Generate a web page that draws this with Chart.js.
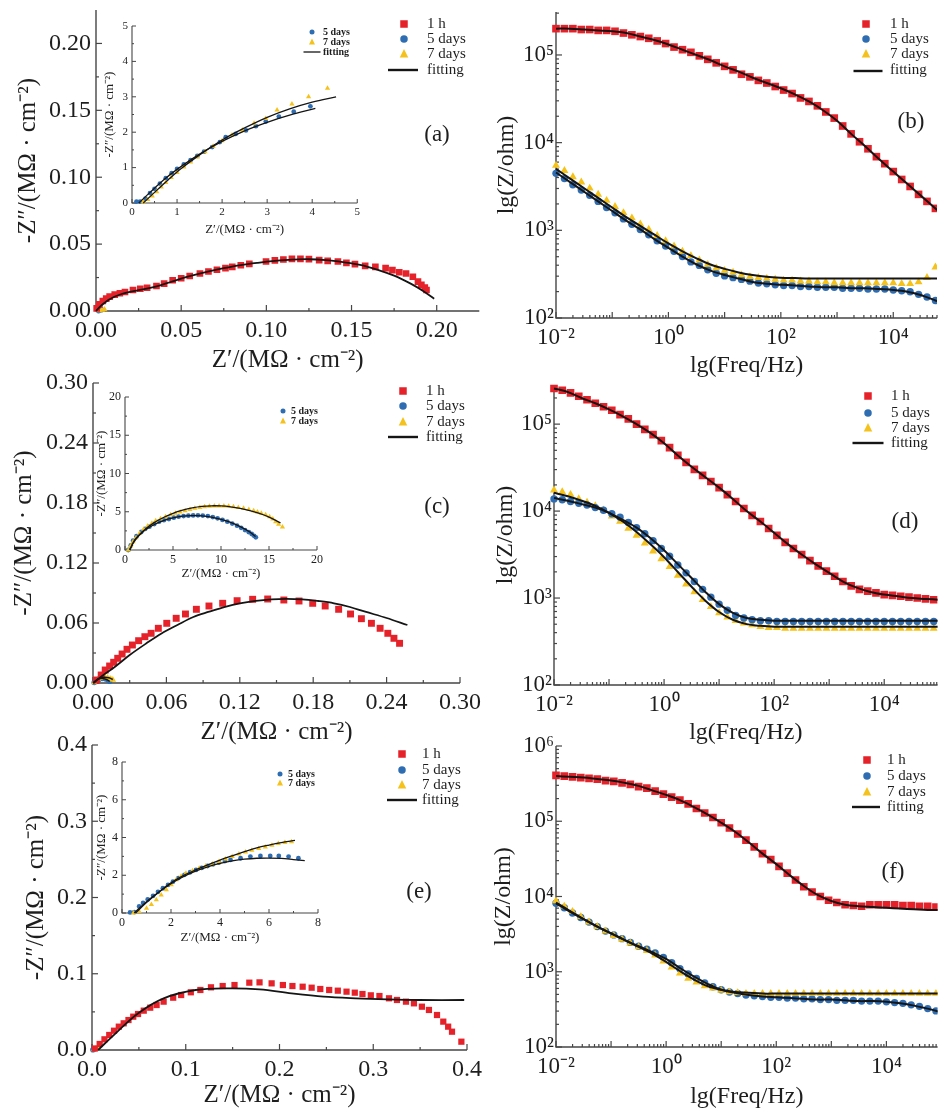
<!DOCTYPE html>
<html><head><meta charset="utf-8"><title>EIS</title>
<script src="https://cdn.jsdelivr.net/npm/chart.js@4.4.1/dist/chart.umd.min.js"></script>
<style>
html,body{margin:0;padding:0;background:#fff;}
body{position:relative;width:939px;height:1114px;overflow:hidden;font-family:"Liberation Serif","Times New Roman",serif;color:#1e1e1e;}
canvas{position:absolute;}
.t{position:absolute;white-space:nowrap;line-height:1;}
.s{position:absolute;width:1px;height:1px;overflow:visible;}
</style></head><body>
<script>
// ---------------- DATA ----------------
const legendLabels = ['1 h', '5 days', '7 days', 'fitting'];
const insetLegendLabels = ['5 days', '7 days', 'fitting'];
const panelLabels = ['(a)', '(b)', '(c)', '(d)', '(e)', '(f)'];
const nyqYTitle = '-Z″/(MΩ · cm⁻²)';
const nyqXTitle = 'Z′/(MΩ · cm⁻²)';
const bodeYTitle = 'lg(Z/ohm)';
const bodeXTitle = 'lg(Freq/Hz)';

// Nyquist tick values / labels
const aTickVals = [0, 0.05, 0.10, 0.15, 0.20];
const aTickLabels = ['0.00', '0.05', '0.10', '0.15', '0.20'];
const aTickMinor = [0.025, 0.075, 0.125, 0.175];
const cTickVals = [0, 0.06, 0.12, 0.18, 0.24, 0.30];
const cTickLabels = ['0.00', '0.06', '0.12', '0.18', '0.24', '0.30'];
const cTickMinor = [0.03, 0.09, 0.15, 0.21, 0.27];
const eTickVals = [0, 0.1, 0.2, 0.3, 0.4];
const eTickLabels = ['0.0', '0.1', '0.2', '0.3', '0.4'];
const eTickMinor = [0.05, 0.15, 0.25, 0.35];
const aInTickVals = [0, 1, 2, 3, 4, 5];
const aInTickLabels = ['0', '1', '2', '3', '4', '5'];
const aInTickMinor = [0.5, 1.5, 2.5, 3.5, 4.5];
const cInTickVals = [0, 5, 10, 15, 20];
const cInTickLabels = ['0', '5', '10', '15', '20'];
const cInTickMinor = [2.5, 7.5, 12.5, 17.5];
const eInTickVals = [0, 2, 4, 6, 8];
const eInTickLabels = ['0', '2', '4', '6', '8'];
const eInTickMinor = [1, 3, 5, 7];
// Bode tick labels
const bodeXTickExp = [-2, 0, 2, 4];
const bodeXTickText = ['10⁻²', '10⁰', '10²', '10⁴'];
const bodeYTickExp = [2, 3, 4, 5, 6];
const bodeYTickText = ['10²', '10³', '10⁴', '10⁵', '10⁶'];

// (a) Nyquist, MΩ·cm⁻²  [Z', -Z'']
const a_1h = [[0.0004,0.002],[0.002,0.005],[0.004,0.0075],[0.006,0.0092],[0.008,0.0107],[0.011,0.0122],[0.014,0.0133],[0.017,0.0142],[0.0217,0.0157],[0.026,0.0166],[0.030,0.0174],[0.0355,0.0187],[0.040,0.0205],[0.045,0.023],[0.050,0.0245],[0.055,0.0262],[0.061,0.028],[0.066,0.0295],[0.071,0.0308],[0.076,0.032],[0.080,0.033],[0.085,0.0342],[0.090,0.0352],[0.0998,0.037],[0.105,0.0378],[0.110,0.0385],[0.115,0.039],[0.120,0.039],[0.125,0.0388],[0.131,0.038],[0.136,0.0375],[0.142,0.037],[0.147,0.036],[0.152,0.035],[0.158,0.0337],[0.164,0.033],[0.170,0.032],[0.174,0.0305],[0.178,0.029],[0.182,0.028],[0.186,0.0256],[0.189,0.022],[0.191,0.0195],[0.193,0.0175],[0.194,0.0157]];
const a_5d = [[0.0015,0.0003],[0.003,0.001]];
const a_7d = [[0.002,0.0003],[0.0035,0.0008],[0.005,0.0012]];
const a_fit = [[0,0],[0.003,0.004],[0.008,0.0088],[0.015,0.0127],[0.025,0.0156],[0.035,0.0182],[0.045,0.0222],[0.055,0.026],[0.065,0.0293],[0.075,0.032],[0.085,0.0343],[0.095,0.036],[0.105,0.0374],[0.115,0.0384],[0.125,0.0387],[0.135,0.038],[0.145,0.0365],[0.155,0.0345],[0.165,0.031],[0.175,0.0265],[0.185,0.0203],[0.192,0.015],[0.1985,0.0092]];
// (a) inset
const aIn_5d = [[0.10,0.04],[0.18,0.04],[0.30,0.12],[0.40,0.28],[0.50,0.40],[0.62,0.55],[0.75,0.70],[0.88,0.84],[1.0,0.96],[1.15,1.09],[1.30,1.21],[1.45,1.33],[1.60,1.45],[1.78,1.58],[1.95,1.72],[2.08,1.86],[2.30,1.95],[2.53,2.05],[2.75,2.17],[2.97,2.30],[3.26,2.44],[3.59,2.58],[3.96,2.73]];
const aIn_7d = [[0.25,0.03],[0.35,0.10],[0.45,0.20],[0.55,0.32],[0.65,0.45],[0.75,0.58],[0.87,0.72],[1.0,0.86],[1.15,1.02],[1.30,1.16],[1.45,1.30],[1.62,1.45],[1.80,1.60],[2.0,1.76],[2.22,1.92],[2.45,2.06],[2.71,2.25],[2.97,2.39],[3.22,2.63],[3.55,2.80],[3.92,3.00],[4.34,3.24]];
const aIn_fit7d = [[0.25,0],[0.5,0.3],[0.8,0.65],[1.1,0.98],[1.5,1.36],[2.0,1.78],[2.5,2.12],[3.0,2.42],[3.5,2.66],[4.0,2.85],[4.53,3.0]];
const aIn_fit5d = [[0.15,0],[0.4,0.3],[0.7,0.65],[1.0,0.95],[1.5,1.38],[2.0,1.74],[2.5,2.04],[3.0,2.28],[3.5,2.48],[4.07,2.67]];

// (c) Nyquist
const c_1h = [[0.0028,0.003],[0.0067,0.008],[0.010,0.013],[0.0136,0.017],[0.0169,0.0207],[0.0202,0.0247],[0.0238,0.029],[0.0278,0.0337],[0.0322,0.038],[0.0373,0.0423],[0.0424,0.0463],[0.0475,0.0497],[0.0534,0.0547],[0.0603,0.0597],[0.068,0.0647],[0.0756,0.069],[0.0845,0.0737],[0.0948,0.077],[0.106,0.0797],[0.1178,0.0823],[0.1305,0.0837],[0.1428,0.084],[0.156,0.083],[0.1684,0.082],[0.1796,0.0797],[0.1898,0.077],[0.2008,0.0737],[0.2105,0.069],[0.2194,0.0643],[0.2276,0.0597],[0.2347,0.0547],[0.241,0.0497],[0.246,0.0447],[0.2506,0.0397]];
const c_5d = [[0.001,0.0005],[0.003,0.0028],[0.005,0.0038],[0.0076,0.0045],[0.0101,0.0042],[0.0122,0.0031],[0.0136,0.0017]];
const c_7d = [[0.001,0.0005],[0.0025,0.0025],[0.004,0.0038],[0.006,0.0048],[0.008,0.0055],[0.010,0.0057],[0.012,0.0054],[0.014,0.0046],[0.0155,0.0038],[0.0164,0.003]];
const c_fit = [[0,0],[0.008,0.0075],[0.018,0.0163],[0.03,0.028],[0.0437,0.0397],[0.056,0.0495],[0.069,0.058],[0.082,0.066],[0.095,0.0713],[0.108,0.0762],[0.120,0.0797],[0.133,0.0822],[0.146,0.0837],[0.158,0.0842],[0.171,0.0837],[0.184,0.082],[0.197,0.0797],[0.21,0.076],[0.2225,0.0713],[0.24,0.065],[0.257,0.058]];
const c_fit5d = [[0.0005,0],[0.004,0.0038],[0.007,0.0045],[0.010,0.004],[0.0136,0.0017]];
const c_fit7d = [[0.0005,0],[0.004,0.004],[0.009,0.0057],[0.013,0.0052],[0.0162,0.0035]];
// (c) inset
const cIn_5d = [[0.34,0],[0.6,0.6],[0.84,1.22],[1.2,1.8],[1.69,2.35],[2.1,2.75],[2.54,3.05],[3.05,3.4],[3.55,3.7],[4.05,3.9],[4.57,4.05],[5.08,4.22],[5.58,4.36],[6.1,4.44],[6.6,4.49],[7.1,4.52],[7.6,4.53],[8.1,4.5],[8.63,4.44],[9.14,4.3],[9.64,4.14],[10.15,3.93],[10.66,3.7],[11.17,3.45],[11.67,3.18],[12.1,2.9],[12.5,2.61],[12.9,2.33],[13.2,2.09],[13.45,1.85],[13.63,1.66]];
const cIn_7d = [[0.34,0],[0.6,0.55],[0.84,1.09],[1.15,1.6],[1.52,2.18],[1.95,2.7],[2.37,3.14],[2.8,3.5],[3.2,3.83],[3.7,4.1],[4.23,4.36],[4.75,4.6],[5.25,4.8],[5.75,4.98],[6.26,5.14],[6.77,5.3],[7.28,5.45],[7.8,5.57],[8.29,5.66],[8.8,5.72],[9.31,5.75],[9.8,5.76],[10.3,5.75],[10.8,5.71],[11.3,5.66],[11.8,5.57],[12.35,5.45],[12.9,5.3],[13.4,5.14],[13.8,4.98],[14.2,4.8],[14.65,4.6],[15.06,4.36],[15.4,4.05],[15.7,3.7],[16.0,3.35],[16.4,3.0]];
const cIn_fit7d = [[0.5,0],[1,1.3],[2,2.6],[3,3.55],[4,4.25],[5,4.8],[6,5.2],[7,5.5],[8,5.7],[9,5.78],[10,5.76],[11,5.65],[12,5.45],[13,5.15],[14,4.78],[15,4.3],[16.2,3.55]];
const cIn_fit5d = [[0.5,0],[1,1.2],[2,2.5],[3,3.3],[4,3.85],[5,4.2],[6,4.42],[7,4.5],[8,4.47],[9,4.3],[10,4.0],[11,3.6],[12,3.05],[13,2.35],[13.6,1.75]];

// (e) Nyquist
const e_1h = [[0.003,0.002],[0.0082,0.0079],[0.0133,0.014],[0.0184,0.0197],[0.0235,0.0253],[0.0286,0.0306],[0.0338,0.035],[0.0389,0.0393],[0.044,0.0437],[0.0491,0.0472],[0.0552,0.0516],[0.0621,0.0555],[0.0689,0.059],[0.0764,0.0634],[0.0866,0.0686],[0.0951,0.0721],[0.1054,0.0757],[0.1156,0.0787],[0.1269,0.0822],[0.1394,0.0839],[0.152,0.0852],[0.1678,0.0883],[0.1787,0.0887],[0.1916,0.0874],[0.2036,0.0852],[0.2138,0.0839],[0.2247,0.083],[0.2343,0.0817],[0.2435,0.08],[0.253,0.0787],[0.2622,0.0778],[0.2715,0.0765],[0.2803,0.0752],[0.2885,0.0734],[0.2974,0.0717],[0.3066,0.0708],[0.3168,0.0678],[0.3253,0.0656],[0.3349,0.0634],[0.3434,0.0612],[0.3519,0.0568],[0.3594,0.0525],[0.368,0.0459],[0.3747,0.0372],[0.3799,0.0306],[0.384,0.024],[0.394,0.0109]];
const e_5d = [[0.001,0.0003],[0.003,0.0015]];
const e_7d = [[0.002,0.0005],[0.004,0.002],[0.006,0.0035]];
const e_fit = [[0.0065,0],[0.0252,0.0219],[0.049,0.048],[0.0764,0.0678],[0.1105,0.0787],[0.1445,0.0809],[0.1787,0.0796],[0.2128,0.0743],[0.2469,0.07],[0.281,0.0678],[0.315,0.0664],[0.349,0.0656],[0.397,0.0656]];
// (e) inset
const eIn_5d = [[0.33,0.03],[0.5,0.05],[0.7,0.35],[0.86,0.53],[1.05,0.72],[1.27,0.91],[1.47,1.12],[1.67,1.31],[1.88,1.49],[2.08,1.66],[2.3,1.85],[2.55,2.02],[2.78,2.16],[3.02,2.28],[3.25,2.39],[3.49,2.49],[3.72,2.58],[3.96,2.67],[4.2,2.75],[4.43,2.81],[4.84,2.9],[5.24,2.99],[5.65,3.02],[6.05,3.02],[6.4,3.02],[6.8,2.99],[7.2,2.9]];
const eIn_7d = [[0.47,0],[0.7,0.08],[1.0,0.25],[1.2,0.45],[1.4,0.7],[1.6,0.95],[1.81,1.23],[2.01,1.5],[2.21,1.76],[2.41,1.95],[2.61,2.1],[2.88,2.24],[3.15,2.37],[3.42,2.49],[3.69,2.6],[3.96,2.73],[4.23,2.86],[4.5,2.99],[4.77,3.12],[5.04,3.23],[5.3,3.33],[5.58,3.42],[5.85,3.5],[6.12,3.59],[6.38,3.68],[6.65,3.73],[6.92,3.77]];
const eIn_fit7d = [[0.55,0],[1,0.55],[1.5,1.1],[2,1.6],[2.5,1.98],[3,2.28],[3.5,2.55],[4,2.8],[4.5,3.03],[5,3.25],[5.5,3.45],[6,3.6],[6.5,3.73],[7.06,3.85]];
const eIn_fit5d = [[0.5,0],[1,0.6],[1.5,1.1],[2,1.55],[2.5,1.92],[3,2.22],[3.5,2.45],[4,2.63],[4.5,2.76],[5,2.85],[5.5,2.9],[6,2.91],[6.5,2.89],[7,2.83],[7.46,2.77]];

// Bode: log10(frequency / Hz) and log10(|Z| / ohm)
const lgFreq = [-2,-1.85,-1.7,-1.55,-1.4,-1.25,-1.1,-0.95,-0.8,-0.65,-0.5,-0.35,-0.2,-0.05,0.1,0.25,0.4,0.55,0.7,0.85,1,1.15,1.3,1.45,1.6,1.75,1.9,2.05,2.2,2.35,2.5,2.65,2.8,2.95,3.1,3.25,3.4,3.55,3.7,3.85,4,4.15,4.3,4.45,4.6,4.75,4.9];
const lgFreqFit = [-2,-1.75,-1.5,-1.25,-1,-0.75,-0.5,-0.25,0,0.25,0.5,0.75,1,1.25,1.5,1.75,2,2.25,2.5,2.75,3,3.25,3.5,3.75,4,4.25,4.5,4.75,5];

const b_1h = [5.30,5.30,5.30,5.29,5.29,5.28,5.28,5.27,5.25,5.23,5.21,5.19,5.16,5.13,5.09,5.06,5.03,4.99,4.95,4.91,4.87,4.83,4.78,4.75,4.71,4.68,4.64,4.60,4.56,4.51,4.47,4.42,4.35,4.28,4.19,4.10,4.01,3.93,3.84,3.76,3.67,3.58,3.50,3.41,3.33,3.25,3.17];
const b_5d = [3.65,3.59,3.52,3.46,3.40,3.33,3.26,3.20,3.13,3.07,3.01,2.95,2.88,2.82,2.76,2.70,2.64,2.60,2.55,2.51,2.48,2.46,2.44,2.42,2.40,2.39,2.38,2.37,2.37,2.36,2.36,2.35,2.35,2.35,2.34,2.34,2.34,2.33,2.33,2.33,2.32,2.31,2.30,2.27,2.24,2.20,2.16];
const b_7d = [3.74,3.68,3.61,3.55,3.48,3.41,3.34,3.27,3.20,3.14,3.07,3.01,2.94,2.88,2.82,2.76,2.71,2.66,2.61,2.57,2.54,2.52,2.49,2.47,2.46,2.45,2.44,2.43,2.43,2.42,2.42,2.41,2.41,2.40,2.40,2.40,2.40,2.40,2.40,2.40,2.40,2.39,2.39,2.41,2.46,2.58,2.70];
const bFit_1h = [5.30,5.30,5.29,5.28,5.27,5.25,5.21,5.17,5.12,5.06,5.00,4.94,4.87,4.81,4.74,4.68,4.62,4.55,4.47,4.37,4.25,4.10,3.96,3.81,3.67,3.53,3.39,3.25,3.11];
const bFit_5d = [3.66,3.55,3.44,3.33,3.22,3.11,3.01,2.90,2.80,2.70,2.61,2.54,2.49,2.45,2.41,2.39,2.38,2.37,2.36,2.35,2.35,2.34,2.34,2.33,2.32,2.30,2.26,2.20,2.14];
const bFit_7d = [3.70,3.59,3.48,3.37,3.26,3.15,3.05,2.95,2.85,2.76,2.68,2.61,2.56,2.52,2.49,2.47,2.46,2.455,2.45,2.45,2.45,2.45,2.45,2.45,2.45,2.45,2.45,2.45,2.45];

const d_1h = [5.41,5.39,5.36,5.32,5.28,5.24,5.20,5.16,5.11,5.06,5.00,4.94,4.88,4.81,4.73,4.64,4.56,4.48,4.41,4.34,4.27,4.19,4.11,4.03,3.95,3.88,3.80,3.72,3.64,3.57,3.50,3.43,3.37,3.31,3.25,3.19,3.14,3.10,3.08,3.06,3.04,3.03,3.02,3.01,3.00,2.99,2.98];
const d_5d = [4.14,4.13,4.11,4.09,4.07,4.04,4.01,3.97,3.93,3.87,3.81,3.74,3.66,3.57,3.48,3.38,3.29,3.19,3.10,3.01,2.93,2.86,2.80,2.77,2.75,2.74,2.74,2.73,2.73,2.73,2.73,2.73,2.73,2.73,2.73,2.73,2.73,2.73,2.73,2.73,2.73,2.73,2.73,2.73,2.73,2.73,2.73];
const d_7d = [4.24,4.22,4.19,4.14,4.10,4.06,4.01,3.94,3.88,3.80,3.72,3.63,3.54,3.45,3.36,3.26,3.16,3.07,2.98,2.90,2.83,2.78,2.74,2.71,2.69,2.67,2.66,2.66,2.65,2.65,2.65,2.65,2.65,2.65,2.65,2.65,2.65,2.65,2.65,2.65,2.65,2.65,2.65,2.65,2.65,2.65,2.65];
const dFit_1h = [5.41,5.37,5.30,5.24,5.17,5.09,5.00,4.90,4.78,4.64,4.51,4.39,4.27,4.14,4.00,3.88,3.75,3.62,3.50,3.39,3.29,3.19,3.12,3.07,3.04,3.02,3.00,2.99,2.98];
const dFit_5d = [4.15,4.12,4.08,4.04,3.98,3.90,3.81,3.69,3.55,3.39,3.23,3.07,2.93,2.83,2.77,2.75,2.74,2.74,2.74,2.74,2.74,2.74,2.74,2.74,2.74,2.74,2.74,2.74,2.74];
const dFit_7d = [4.21,4.17,4.12,4.06,3.98,3.88,3.76,3.62,3.47,3.30,3.13,2.97,2.84,2.75,2.70,2.68,2.67,2.67,2.67,2.67,2.67,2.67,2.67,2.67,2.67,2.67,2.67,2.67,2.67];

const f_1h = [5.61,5.60,5.59,5.58,5.57,5.56,5.54,5.53,5.51,5.49,5.46,5.44,5.40,5.36,5.32,5.28,5.23,5.17,5.11,5.05,4.98,4.91,4.83,4.75,4.66,4.57,4.49,4.40,4.31,4.22,4.13,4.06,4.00,3.95,3.92,3.89,3.88,3.87,3.89,3.89,3.89,3.89,3.88,3.88,3.87,3.87,3.86];
const f_5d = [3.91,3.85,3.78,3.72,3.66,3.60,3.54,3.49,3.44,3.39,3.34,3.30,3.25,3.19,3.12,3.04,2.97,2.91,2.85,2.80,2.76,2.73,2.71,2.69,2.68,2.67,2.66,2.66,2.65,2.65,2.64,2.64,2.63,2.63,2.62,2.62,2.62,2.61,2.61,2.61,2.60,2.59,2.58,2.56,2.54,2.51,2.48];
const f_7d = [3.94,3.87,3.80,3.73,3.66,3.60,3.54,3.48,3.43,3.38,3.33,3.28,3.22,3.14,3.06,2.98,2.91,2.86,2.81,2.78,2.75,2.73,2.72,2.71,2.71,2.71,2.71,2.71,2.71,2.71,2.71,2.71,2.71,2.71,2.71,2.71,2.71,2.71,2.71,2.71,2.71,2.71,2.71,2.71,2.71,2.71,2.71];
const fFit_1h = [5.60,5.59,5.58,5.56,5.54,5.51,5.47,5.41,5.35,5.28,5.19,5.09,4.98,4.86,4.72,4.57,4.43,4.28,4.14,4.02,3.94,3.89,3.87,3.86,3.85,3.84,3.83,3.82,3.82];
const fFit_5d = [3.91,3.80,3.70,3.60,3.51,3.42,3.34,3.26,3.17,3.05,2.94,2.84,2.76,2.72,2.69,2.67,2.66,2.65,2.64,2.63,2.63,2.62,2.61,2.61,2.60,2.58,2.55,2.51,2.46];
const fFit_7d = [3.92,3.81,3.70,3.60,3.51,3.42,3.33,3.24,3.13,3.01,2.90,2.81,2.76,2.73,2.72,2.71,2.71,2.71,2.71,2.71,2.71,2.71,2.71,2.71,2.71,2.71,2.71,2.71,2.71];

// ---------------- STYLE ----------------
const SERIF = '"Liberation Serif","Times New Roman",serif';
const RED = '#E5222A', BLUE = '#2F6DB3', YEL = '#F5C21B', FITC = '#151515', AXC = '#464646';
Chart.defaults.font.family = SERIF;

const P = arr => arr.map(([x, y]) => ({x, y}));
const B = (lf, lz) => lf.map((f, i) => ({x: Math.pow(10, f), y: Math.pow(10, lz[i])}));
const CLIP = {left: 12, top: 12, right: 0, bottom: 12};
function pts(data, style, color, r, order) {
  return {data, pointStyle: style, pointRadius: r, pointHoverRadius: r, backgroundColor: color,
    borderColor: color, pointBorderWidth: 0, borderWidth: 0, showLine: false, order, clip: CLIP};
}
function fit(data, w) {
  return {data, showLine: true, pointRadius: 0, pointHoverRadius: 0, borderColor: FITC, backgroundColor: FITC,
    borderWidth: w, tension: 0.35, fill: false, order: 0, clip: CLIP};
}
function linTicks(vals, labels, minors) {
  return vals.map((v, i) => ({v, label: labels[i], mj: true}))
    .concat(minors.map(v => ({v, label: '', mj: false}))).sort((a, b) => a.v - b.v);
}
function logTicks(d0, d1, max, exps, texts) {
  const t = [];
  for (let d = d0; d <= d1; d++) {
    const k = exps.indexOf(d);
    t.push({v: Math.pow(10, d), mj: true, label: k >= 0 ? texts[k] : ''});
    for (let m = 2; m <= 9; m++) t.push({v: m * Math.pow(10, d), mj: false, label: ''});
  }
  return t.filter(x => x.v <= max * 1.0001);
}

const inAxes = {
  id: 'inAxes',
  beforeDatasetsDraw(chart, args, o) {
    const ctx = chart.ctx, a = chart.chartArea;
    ctx.save();
    ctx.strokeStyle = o.color; ctx.lineWidth = o.width;
    ctx.beginPath();
    ctx.moveTo(a.left, a.top); ctx.lineTo(a.left, a.bottom); ctx.lineTo(a.right, a.bottom);
    ctx.stroke();
    ctx.lineWidth = o.tickWidth;
    const sx = chart.scales.x, sy = chart.scales.y;
    sx.ticks.forEach(t => {
      const p = sx.getPixelForValue(t.value), L = t.mj ? o.major : o.minor;
      ctx.beginPath(); ctx.moveTo(p, a.bottom); ctx.lineTo(p, a.bottom - L); ctx.stroke();
    });
    sy.ticks.forEach(t => {
      const p = sy.getPixelForValue(t.value), L = t.mj ? o.major : o.minor;
      ctx.beginPath(); ctx.moveTo(a.left, p); ctx.lineTo(a.left + L, p); ctx.stroke();
    });
    ctx.restore();
  }
};
const AX_MAIN = {color: AXC, width: 1.4, tickWidth: 1.2, major: 6, minor: 3};
const AX_IN = {color: AXC, width: 1.1, tickWidth: 1, major: 4, minor: 2};

function panel(p) {
  const lh = p.ts * 1.2;
  const cl = Math.round(p.ytx - lh / 2), ct = p.area.t - 30, cr = p.area.r + 4, cb = Math.round(p.xty + lh / 2);
  const W = cr - cl, H = cb - ct;
  const c = document.createElement('canvas');
  c.width = W; c.height = H;
  c.style.left = cl + 'px'; c.style.top = ct + 'px'; c.style.width = W + 'px'; c.style.height = H + 'px';
  document.body.appendChild(c);
  const yW = p.area.l - cl, xH = cb - p.area.b;
  const tf = {family: SERIF, size: p.fs, lineHeight: 1.2};
  const titf = {family: SERIF, size: p.ts, lineHeight: 1.2};
  const sc = (axis, log, min, max, ticks, title, pad) => ({
    type: log ? 'logarithmic' : 'linear', position: axis === 'x' ? 'bottom' : 'left',
    min, max, bounds: 'data',
    grid: {display: false, drawTicks: false}, border: {display: false},
    ticks: {autoSkip: false, maxRotation: 0, minRotation: 0, padding: pad, color: '#1e1e1e', font: tf,
      callback: (v, i) => (ticks[i] ? ticks[i].label : '')},
    afterBuildTicks: s => { s.ticks = ticks.map(t => ({value: t.v, mj: t.mj})); },
    afterFit: s => { if (axis === 'x') s.height = xH; else s.width = yW; },
    title: {display: true, text: title, color: '#1e1e1e', font: titf, padding: 0}
  });
  return new Chart(c, {
    type: 'scatter',
    data: {datasets: p.ds},
    options: {
      responsive: false, animation: false, devicePixelRatio: 1, events: [],
      layout: {padding: {left: 0, top: 30, right: 4, bottom: 0}},
      plugins: {legend: {display: false}, tooltip: {enabled: false}, inAxes: p.ax},
      scales: {
        x: sc('x', p.xlog, p.xmin, p.xmax, p.xt, p.xtitle, p.xpad),
        y: sc('y', p.ylog, p.ymin, p.ymax, p.yt, p.ytitle, p.ypad)
      }
    },
    plugins: [inAxes]
  });
}

// -------- overlays (legends, panel labels) --------
function txt(s, x, y, fs, bold, center) {
  const d = document.createElement('div');
  d.className = 't'; d.textContent = s;
  d.style.left = x + 'px'; d.style.top = (y - fs * 0.55) + 'px'; d.style.fontSize = fs + 'px';
  if (bold) d.style.fontWeight = 'bold';
  if (center) d.style.transform = 'translateX(-50%)';
  document.body.appendChild(d);
}
function sym(type, cx, cy, s, color, len) {
  let inner;
  if (type === 'sq') inner = `<rect x="${-s / 2}" y="${-s / 2}" width="${s}" height="${s}" fill="${color}"/>`;
  else if (type === 'ci') inner = `<circle r="${s / 2}" fill="${color}"/>`;
  else if (type === 'tr') inner = `<polygon points="0,${-s * 0.58} ${s / 2},${s * 0.42} ${-s / 2},${s * 0.42}" fill="${color}"/>`;
  else inner = `<line x1="${-len / 2}" x2="${len / 2}" y1="0" y2="0" stroke="${color}" stroke-width="${s}"/>`;
  const d = document.createElement('div');
  d.className = 's'; d.style.left = cx + 'px'; d.style.top = cy + 'px';
  d.innerHTML = `<svg width="1" height="1" style="overflow:visible;position:absolute;left:0;top:0">${inner}</svg>`;
  document.body.appendChild(d);
}
function mainLegend(mx, tx, ys, lineX0, lineX1) {
  sym('sq', mx, ys[0], 7.5, RED);
  sym('ci', mx, ys[1], 7.5, BLUE);
  sym('tr', mx, ys[2], 8.5, YEL);
  sym('ln', (lineX0 + lineX1) / 2, ys[3], 2.4, FITC, lineX1 - lineX0);
  legendLabels.forEach((s, i) => txt(s, tx, ys[i], 15));
}
function insetLegend(mx, tx, ys, withFit, lineX0, lineX1) {
  sym('ci', mx, ys[0], 5, BLUE);
  sym('tr', mx, ys[1], 6, YEL);
  txt(insetLegendLabels[0], tx, ys[0], 10, true);
  txt(insetLegendLabels[1], tx, ys[1], 10, true);
  if (withFit) {
    sym('ln', (lineX0 + lineX1) / 2, ys[2], 1.3, FITC, lineX1 - lineX0);
    txt(insetLegendLabels[2], tx, ys[2], 10, true);
  }
}

// ---------------- CHARTS ----------------
const nyqMainBase = {ts: 25, fs: 24, xpad: 5, ypad: 5, ax: AX_MAIN, xtitle: nyqXTitle, ytitle: nyqYTitle};
const nyqInBase = {ts: 13, fs: 12, xpad: 3, ypad: 4, ax: AX_IN, xtitle: nyqXTitle, ytitle: nyqYTitle};
const bodeBase = {ts: 24, fs: 23, xpad: 6, ypad: 2, ax: AX_MAIN, xtitle: bodeXTitle, ytitle: bodeYTitle, xlog: true, ylog: true};
const RSQ = 5.4, RCI = 3.7, RTR = 4.6;   // Bode marker radii

// (a)
const aTicks = linTicks(aTickVals, aTickLabels, aTickMinor);
panel(Object.assign({}, nyqMainBase, {
  area: {l: 96, t: 10, r: 480, b: 311}, ytx: 28, xty: 360,
  xmin: 0, xmax: 0.225, ymin: 0, ymax: 0.225, xt: aTicks, yt: aTicks,
  ds: [fit(P(a_fit), 1.8), pts(P(a_1h), 'rect', RED, 4.7, 1), pts(P(a_7d), 'triangle', YEL, 3.5, 2), pts(P(a_5d), 'circle', BLUE, 2.8, 3)]
}));
// (b)
const bX = logTicks(-2, 4, Math.pow(10, 4.78), bodeXTickExp, bodeXTickText);
panel(Object.assign({}, bodeBase, {
  area: {l: 556, t: 12, r: 939, b: 318}, ytx: 506, xty: 366,
  xmin: 0.01, xmax: Math.pow(10, 4.78), ymin: 100, ymax: Math.pow(10, 5.49),
  xt: bX, yt: logTicks(2, 5, Math.pow(10, 5.49), bodeYTickExp, bodeYTickText),
  ds: [fit(B(lgFreqFit, bFit_1h), 2), fit(B(lgFreqFit, bFit_5d), 2), fit(B(lgFreqFit, bFit_7d), 2),
       pts(B(lgFreq, b_1h), 'rect', RED, RSQ, 1), pts(B(lgFreq, b_7d), 'triangle', YEL, RTR, 2), pts(B(lgFreq, b_5d), 'circle', BLUE, RCI, 3)]
}));
// (c)
const cTicks = linTicks(cTickVals, cTickLabels, cTickMinor);
panel(Object.assign({}, nyqMainBase, {
  area: {l: 93, t: 383, r: 482, b: 683}, ytx: 24, xty: 732,
  xmin: 0, xmax: 0.30, ymin: 0, ymax: 0.30, xt: cTicks, yt: cTicks,
  ds: [fit(P(c_fit), 1.8), fit(P(c_fit5d), 1.4), fit(P(c_fit7d), 1.4), pts(P(c_1h), 'rect', RED, 4.9, 1), pts(P(c_7d), 'triangle', YEL, 3.5, 2), pts(P(c_5d), 'circle', BLUE, 2.8, 3)]
}));
// (d)
panel(Object.assign({}, bodeBase, {
  area: {l: 554, t: 385, r: 939, b: 685}, ytx: 505, xty: 733,
  xmin: 0.01, xmax: Math.pow(10, 4.97), ymin: 100, ymax: Math.pow(10, 5.45),
  xt: logTicks(-2, 4, Math.pow(10, 4.97), bodeXTickExp, bodeXTickText), yt: logTicks(2, 5, Math.pow(10, 5.45), bodeYTickExp, bodeYTickText),
  ds: [fit(B(lgFreqFit, dFit_1h), 2), fit(B(lgFreqFit, dFit_5d), 2), fit(B(lgFreqFit, dFit_7d), 2),
       pts(B(lgFreq, d_1h), 'rect', RED, RSQ, 1), pts(B(lgFreq, d_5d), 'circle', BLUE, RCI, 2), pts(B(lgFreq, d_7d), 'triangle', YEL, RTR, 3)]
}));
// (e)
const eTicks = linTicks(eTickVals, eTickLabels, eTickMinor);
panel(Object.assign({}, nyqMainBase, {
  area: {l: 92, t: 745, r: 483, b: 1050}, ytx: 36, xty: 1095,
  xmin: 0, xmax: 0.4, ymin: 0, ymax: 0.4, xt: eTicks, yt: eTicks,
  ds: [fit(P(e_fit), 1.8), pts(P(e_1h), 'rect', RED, 4.4, 1), pts(P(e_7d), 'triangle', YEL, 3.5, 2), pts(P(e_5d), 'circle', BLUE, 2.8, 3)]
}));
// (f)
panel(Object.assign({}, bodeBase, {
  area: {l: 556, t: 746, r: 939, b: 1047}, ytx: 503, xty: 1097,
  xmin: 0.01, xmax: Math.pow(10, 4.93), ymin: 100, ymax: 1e6,
  xt: logTicks(-2, 4, Math.pow(10, 4.93), bodeXTickExp, bodeXTickText), yt: logTicks(2, 6, 1e6, bodeYTickExp, bodeYTickText),
  ds: [fit(B(lgFreqFit, fFit_1h), 2), fit(B(lgFreqFit, fFit_5d), 2), fit(B(lgFreqFit, fFit_7d), 2),
       pts(B(lgFreq, f_1h), 'rect', RED, RSQ, 1), pts(B(lgFreq, f_7d), 'triangle', YEL, RTR, 2), pts(B(lgFreq, f_5d), 'circle', BLUE, RCI, 3)]
}));

// insets
const aInT = linTicks(aInTickVals, aInTickLabels, aInTickMinor);
panel(Object.assign({}, nyqInBase, {
  fs: 11, area: {l: 132, t: 26, r: 359, b: 203}, ytx: 110, xty: 229,
  xmin: 0, xmax: 5, ymin: 0, ymax: 5, xt: aInT, yt: aInT,
  ds: [fit(P(aIn_fit7d), 1.3), fit(P(aIn_fit5d), 1.3), pts(P(aIn_7d), 'triangle', YEL, 3, 1), pts(P(aIn_5d), 'circle', BLUE, 2.4, 2)]
}));
const cInT = linTicks(cInTickVals, cInTickLabels, cInTickMinor);
panel(Object.assign({}, nyqInBase, {
  area: {l: 125, t: 397, r: 322, b: 550}, ytx: 102, xty: 573,
  xmin: 0, xmax: 20, ymin: 0, ymax: 20, xt: cInT, yt: cInT,
  ds: [fit(P(cIn_fit7d), 1.3), fit(P(cIn_fit5d), 1.3), pts(P(cIn_7d), 'triangle', YEL, 3, 1), pts(P(cIn_5d), 'circle', BLUE, 2.4, 2)]
}));
const eInT = linTicks(eInTickVals, eInTickLabels, eInTickMinor);
panel(Object.assign({}, nyqInBase, {
  area: {l: 122, t: 762, r: 320, b: 913}, ytx: 102, xty: 937,
  xmin: 0, xmax: 8, ymin: 0, ymax: 8, xt: eInT, yt: eInT,
  ds: [fit(P(eIn_fit7d), 1.3), fit(P(eIn_fit5d), 1.3), pts(P(eIn_7d), 'triangle', YEL, 3, 1), pts(P(eIn_5d), 'circle', BLUE, 2.4, 2)]
}));

// legends
mainLegend(404, 427, [24, 39, 54, 70], 388, 418);
mainLegend(866, 890, [24, 39, 54, 70.5], 853, 882);
mainLegend(403, 426, [391, 406, 422, 437], 388, 418);
mainLegend(868, 891, [396, 413, 428, 443], 852, 883);
mainLegend(402, 422, [754, 770, 785, 800], 387, 417);
mainLegend(867, 887, [760, 776, 792, 807], 852, 880);
insetLegend(312, 323, [32, 42, 52], true, 303, 320);
insetLegend(283, 291, [411, 421], false);
insetLegend(280, 288, [774, 783], false);

// panel labels
[[437, 135], [911, 122], [437, 507], [905, 522], [419, 892], [893, 872]].forEach(([x, y], i) => txt(panelLabels[i], x, y, 23, false, true));
</script>
</body></html>
